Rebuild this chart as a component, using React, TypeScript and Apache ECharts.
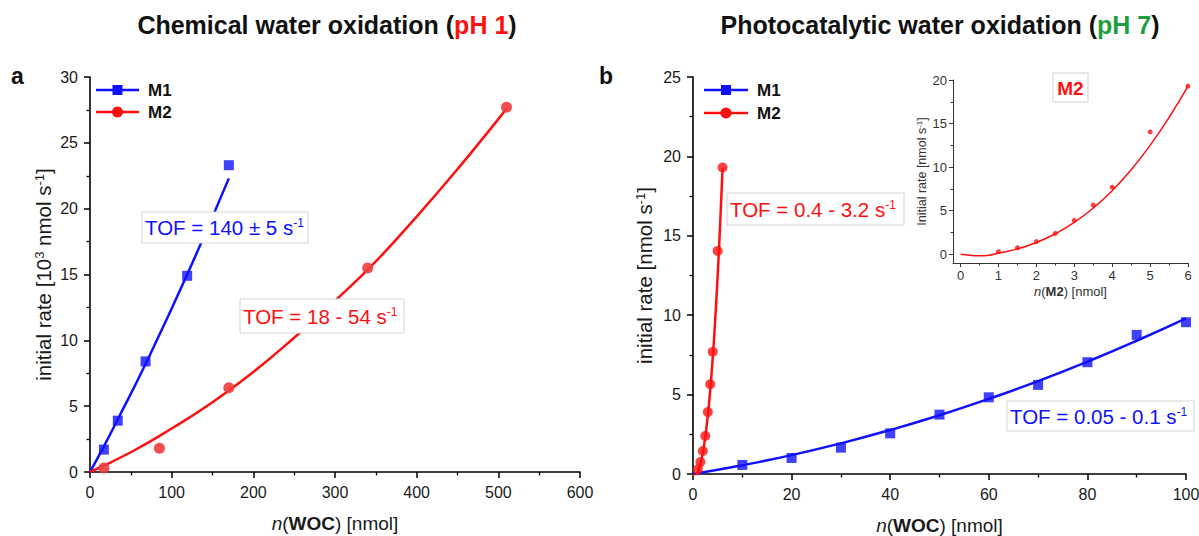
import React, { useEffect, useRef } from "react";
import * as echarts from "echarts";

const FONT = "'Liberation Sans', Arial, Helvetica, sans-serif";
const BLUE = "#1010ff";
const RED = "#ff1010";
const RED_SOFT = "#f03c3c";
const GREEN = "#1f9e3f";

// ---- panel a : chemical water oxidation ----
const A_X_TICK_INTERVAL = 100;
const A_Y_TICK_INTERVAL = 5;
const A_M1_X = [17, 34, 68, 119, 170];
const A_M1_Y = [1.7, 3.9, 8.4, 14.9, 23.3];
const A_M2_X = [17, 85, 170, 340, 510];
const A_M2_Y = [0.3, 1.8, 6.4, 15.5, 27.7];
const A_M1_FIT_X = [0, 17, 34, 68, 119, 170];
const A_M1_FIT_Y = [0, 1.95, 4.0, 8.2, 15.0, 22.3];
const A_M2_FIT_X = [0, 50, 100, 150, 200, 250, 300, 350, 400, 450, 500, 510];
const A_M2_FIT_Y = [0, 1.5, 3.3, 5.3, 7.6, 10.2, 13.0, 16.0, 19.4, 23.0, 26.8, 27.6];

// ---- panel b : photocatalytic water oxidation ----
const B_X_TICK_INTERVAL = 20;
const B_Y_TICK_INTERVAL = 5;
const B_M1_X = [10, 20, 30, 40, 50, 60, 70, 80, 90, 100];
const B_M1_Y = [0.57, 1.01, 1.66, 2.56, 3.74, 4.83, 5.61, 7.04, 8.76, 9.56];
const B_M1_FIT_X = [0, 10, 20, 30, 40, 50, 60, 70, 80, 90, 100];
const B_M1_FIT_Y = [0, 0.55, 1.19, 1.93, 2.77, 3.7, 4.73, 5.85, 7.07, 8.39, 9.8];
const B_M2_X = [1, 1.5, 2, 2.5, 3, 3.5, 4, 5, 6];
const B_M2_Y = [0.3, 0.75, 1.45, 2.4, 3.9, 5.65, 7.7, 14.05, 19.3];
const B_M2_FIT_X = [0, 0.25, 0.5, 0.75, 1, 1.5, 2, 2.5, 3, 3.5, 4, 4.5, 5, 5.5, 6];
const B_M2_FIT_Y = [0, -0.12, -0.17, -0.1, 0.12, 0.62, 1.36, 2.36, 3.66, 5.3, 7.3, 9.7, 12.5, 15.7, 19.3];

// ---- inset ticks ----
const INSET_X_TICKS = [0, 1, 2, 3, 4, 5, 6];
const INSET_X_MINOR = [0.5, 1.5, 2.5, 3.5, 4.5, 5.5];
const INSET_Y_TICKS = [0, 5, 10, 15, 20];
const INSET_Y_MINOR = [2.5, 7.5, 12.5, 17.5];

const pairs = (xs: number[], ys: number[]) => xs.map((x, i) => [x, ys[i]]);

function mainAxis(extra: any) {
  return {
    type: "value",
    axisLine: { show: true, onZero: false, lineStyle: { color: "#000", width: 1.6 } },
    axisTick: { show: true, inside: false, length: 6, lineStyle: { color: "#000", width: 1.5 } },
    minorTick: { show: true, splitNumber: 2, length: 3.5, lineStyle: { color: "#000", width: 1.3 } },
    splitLine: { show: false },
    minorSplitLine: { show: false },
    axisLabel: { color: "#1a1a1a", fontSize: 16, fontFamily: FONT, margin: 12 },
    ...extra,
  };
}

const xNameStyle = (size: number, color = "#1a1a1a") => ({
  fontSize: size,
  fontFamily: FONT,
  color,
  rich: {
    i: { fontSize: size, fontFamily: FONT, fontStyle: "italic", color },
    b: { fontSize: size, fontFamily: FONT, fontWeight: "bold", color },
  },
});

const yNameStyle = (size: number, sup: number, color = "#1a1a1a") => ({
  fontSize: size,
  fontFamily: FONT,
  color,
  rich: {
    sup: { fontSize: sup, fontFamily: FONT, color, verticalAlign: "top" },
  },
});

function boxText(x: number, y: number, w: number, h: number, body: string, sup: string, color: string) {
  return [
    {
      type: "rect",
      z: 100,
      shape: { x, y, width: w, height: h },
      style: { fill: "#ffffff", stroke: "#d4d4d4", lineWidth: 1 },
    },
    {
      type: "text",
      z: 101,
      x: x + 3,
      y: y + h / 2,
      style: {
        text: `{m|${body}}{s|${sup}}`,
        align: "left",
        verticalAlign: "middle",
        textAlign: "left",
        textVerticalAlign: "middle",
        rich: {
          m: { fontSize: 20.5, fontFamily: FONT, fill: color, color },
          s: { fontSize: 12, fontFamily: FONT, fill: color, color, verticalAlign: "top" },
        },
      },
    },
  ];
}

function legend(x0: number, x1: number, y: number, color: string, shape: "rect" | "circle", label: string) {
  const mx = (x0 + x1) / 2;
  const marker =
    shape === "rect"
      ? { type: "rect", z: 100, shape: { x: mx - 5, y: y - 5, width: 10, height: 10 }, style: { fill: color } }
      : { type: "circle", z: 100, shape: { cx: mx, cy: y, r: 5.5 }, style: { fill: color } };
  return [
    { type: "line", z: 100, shape: { x1: x0, y1: y, x2: x1, y2: y }, style: { stroke: color, lineWidth: 2.5 } },
    marker,
    {
      type: "text",
      z: 100,
      x: x1 + 9,
      y,
      style: {
        text: label,
        fontSize: 17,
        fontWeight: "bold",
        fontFamily: FONT,
        fill: "#111",
        align: "left",
        verticalAlign: "middle",
        textAlign: "left",
        textVerticalAlign: "middle",
      },
    },
  ];
}

function title(cx: number, head: string, ph: string, color: string) {
  return {
    type: "text",
    z: 100,
    x: cx,
    y: 25,
    style: {
      text: `{k|${head} (}{c|${ph}}{k|)}`,
      align: "center",
      verticalAlign: "middle",
      textAlign: "center",
      textVerticalAlign: "middle",
      rich: {
        k: { fontSize: 25, fontWeight: "bold", fontFamily: FONT, fill: "#111", color: "#111" },
        c: { fontSize: 25, fontWeight: "bold", fontFamily: FONT, fill: color, color },
      },
    },
  };
}

function letter(x: number, t: string) {
  return {
    type: "text",
    z: 100,
    x,
    y: 76,
    style: {
      text: t,
      fontSize: 23,
      fontWeight: "bold",
      fontFamily: FONT,
      fill: "#111",
      align: "left",
      verticalAlign: "middle",
      textAlign: "left",
      textVerticalAlign: "middle",
    },
  };
}

export default function App() {
  const ref = useRef<HTMLDivElement>(null);

  useEffect(() => {
    if (!ref.current) return;
    const chart = echarts.init(ref.current, undefined, { renderer: "svg" });

    const insetAxisLine = { show: true, onZero: false, lineStyle: { color: "#333", width: 1 } };

    const option: any = {
      animation: false,
      backgroundColor: "#ffffff",
      grid: [
        { left: 90, top: 77, width: 490, height: 395, outerBoundsMode: "none" },
        { left: 693, top: 77, width: 493, height: 397, outerBoundsMode: "none" },
        { left: 953, top: 80, width: 235, height: 183, outerBoundsMode: "none" },
      ],
      xAxis: [
        mainAxis({
          gridIndex: 0,
          min: 0,
          max: 600,
          interval: A_X_TICK_INTERVAL,
          name: "{i|n}({b|WOC}) [nmol]",
          nameLocation: "middle",
          nameGap: 42,
          nameTextStyle: xNameStyle(19),
        }),
        mainAxis({
          gridIndex: 1,
          min: 0,
          max: 100,
          interval: B_X_TICK_INTERVAL,
          name: "{i|n}({b|WOC}) [nmol]",
          nameLocation: "middle",
          nameGap: 42,
          nameTextStyle: xNameStyle(19),
        }),
        {
          type: "value",
          gridIndex: 2,
          position: "bottom",
          min: -0.2,
          max: 6,
          axisLine: insetAxisLine,
          axisTick: { show: true, length: 4, customValues: INSET_X_TICKS, lineStyle: { color: "#333", width: 1 } },
          axisLabel: { customValues: INSET_X_TICKS, color: "#333", fontSize: 13, fontFamily: FONT, margin: 6 },
          splitLine: { show: false },
          name: "{i|n}({b|M2}) [nmol]",
          nameLocation: "middle",
          nameGap: 22,
          nameTextStyle: xNameStyle(13, "#333"),
        },
        {
          type: "value",
          gridIndex: 2,
          position: "bottom",
          min: -0.2,
          max: 6,
          axisLine: { show: false, onZero: false },
          axisTick: { show: true, length: 2.5, customValues: INSET_X_MINOR, lineStyle: { color: "#333", width: 1 } },
          axisLabel: { show: false },
          splitLine: { show: false },
        },
      ],
      yAxis: [
        mainAxis({
          gridIndex: 0,
          min: 0,
          max: 30,
          interval: A_Y_TICK_INTERVAL,
          name: "initial rate [10{sup|3} nmol s{sup|-1}]",
          nameLocation: "middle",
          nameRotate: 90,
          nameGap: 36,
          nameTextStyle: yNameStyle(20.5, 13),
        }),
        mainAxis({
          gridIndex: 1,
          min: 0,
          max: 25,
          interval: B_Y_TICK_INTERVAL,
          name: "initial rate [nmol s{sup|-1}]",
          nameLocation: "middle",
          nameRotate: 90,
          nameGap: 38,
          nameTextStyle: yNameStyle(20.5, 13),
        }),
        {
          type: "value",
          gridIndex: 2,
          position: "left",
          min: -1,
          max: 20,
          axisLine: insetAxisLine,
          axisTick: { show: true, length: 4, customValues: INSET_Y_TICKS, lineStyle: { color: "#333", width: 1 } },
          axisLabel: { customValues: INSET_Y_TICKS, color: "#333", fontSize: 13, fontFamily: FONT, margin: 6 },
          splitLine: { show: false },
          name: "Initial rate [nmol s{sup|-1}]",
          nameLocation: "middle",
          nameRotate: 90,
          nameGap: 22,
          nameTextStyle: yNameStyle(12.5, 8, "#333"),
        },
        {
          type: "value",
          gridIndex: 2,
          position: "left",
          min: -1,
          max: 20,
          axisLine: { show: false, onZero: false },
          axisTick: { show: true, length: 2.5, customValues: INSET_Y_MINOR, lineStyle: { color: "#333", width: 1 } },
          axisLabel: { show: false },
          splitLine: { show: false },
        },
      ],
      series: [
        // panel a
        {
          type: "line", name: "M1 fit a", xAxisIndex: 0, yAxisIndex: 0,
          data: pairs(A_M1_FIT_X, A_M1_FIT_Y), smooth: true, symbol: "none",
          lineStyle: { color: BLUE, width: 2.5 }, z: 2,
        },
        {
          type: "line", name: "M2 fit a", xAxisIndex: 0, yAxisIndex: 0,
          data: pairs(A_M2_FIT_X, A_M2_FIT_Y), smooth: true, symbol: "none",
          lineStyle: { color: RED, width: 2.5 }, z: 2,
        },
        {
          type: "scatter", name: "M1", xAxisIndex: 0, yAxisIndex: 0,
          data: pairs(A_M1_X, A_M1_Y), symbol: "rect", symbolSize: 10,
          itemStyle: { color: BLUE }, z: 3,
        },
        {
          type: "scatter", name: "M2", xAxisIndex: 0, yAxisIndex: 0,
          data: pairs(A_M2_X, A_M2_Y), symbol: "circle", symbolSize: 11,
          itemStyle: { color: RED_SOFT, opacity: 0.9 }, z: 3,
        },
        // panel b
        {
          type: "line", name: "M1 fit b", xAxisIndex: 1, yAxisIndex: 1,
          data: pairs(B_M1_FIT_X, B_M1_FIT_Y), smooth: true, symbol: "none",
          lineStyle: { color: BLUE, width: 2.5 }, z: 2,
        },
        {
          type: "line", name: "M2 fit b", xAxisIndex: 1, yAxisIndex: 1,
          data: pairs(B_M2_FIT_X, B_M2_FIT_Y), smooth: true, symbol: "none",
          lineStyle: { color: RED, width: 2.5 }, z: 2,
        },
        {
          type: "scatter", name: "M1 b", xAxisIndex: 1, yAxisIndex: 1,
          data: pairs(B_M1_X, B_M1_Y), symbol: "rect", symbolSize: 10,
          itemStyle: { color: BLUE }, z: 3,
        },
        {
          type: "scatter", name: "M2 b", xAxisIndex: 1, yAxisIndex: 1,
          data: pairs(B_M2_X, B_M2_Y), symbol: "circle", symbolSize: 10,
          itemStyle: { color: RED }, z: 3,
        },
        // inset
        {
          type: "line", name: "M2 fit inset", xAxisIndex: 2, yAxisIndex: 2,
          data: pairs(B_M2_FIT_X, B_M2_FIT_Y), smooth: true, symbol: "none",
          lineStyle: { color: RED, width: 1.5 }, z: 2,
        },
        {
          type: "scatter", name: "M2 inset", xAxisIndex: 2, yAxisIndex: 2,
          data: pairs(B_M2_X, B_M2_Y), symbol: "circle", symbolSize: 5,
          itemStyle: { color: RED }, z: 3,
        },
      ],
      graphic: [
        title(327, "Chemical water oxidation", "pH 1", RED),
        title(940, "Photocatalytic water oxidation", "pH 7", GREEN),
        letter(11, "a"),
        letter(599, "b"),
        ...legend(96, 139, 90, BLUE, "rect", "M1"),
        ...legend(96, 139, 112, RED, "circle", "M2"),
        ...legend(704, 748, 90, BLUE, "rect", "M1"),
        ...legend(704, 748, 113, RED, "circle", "M2"),
        ...boxText(142, 212, 166, 31, "TOF = 140 ± 5 s", "-1", BLUE),
        ...boxText(240, 299, 164, 34, "TOF = 18 - 54 s", "-1", RED),
        ...boxText(727, 193, 177, 32, "TOF = 0.4 - 3.2 s", "-1", RED),
        ...boxText(1007, 401, 187, 30, "TOF = 0.05 - 0.1 s", "-1", BLUE),
        {
          type: "rect",
          z: 100,
          shape: { x: 1053, y: 73, width: 35, height: 29 },
          style: { fill: "#ffffff", stroke: "#d0d0d0", lineWidth: 1 },
        },
        {
          type: "text",
          z: 101,
          x: 1070.5,
          y: 88,
          style: {
            text: "M2",
            fontSize: 19,
            fontWeight: "bold",
            fontFamily: FONT,
            fill: RED,
            align: "center",
            verticalAlign: "middle",
            textAlign: "center",
            textVerticalAlign: "middle",
          },
        },
      ],
    };

    chart.setOption(option);
    return () => chart.dispose();
  }, []);

  return (
    <div
      ref={ref}
      style={{ position: "fixed", left: 0, top: 0, width: 1199, height: 536, background: "#fff" }}
    />
  );
}
